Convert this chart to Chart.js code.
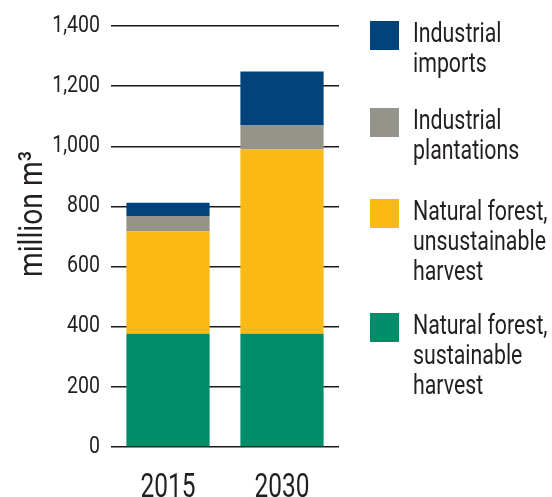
<!DOCTYPE html>
<html>
<head>
<meta charset="utf-8">
<script src="https://cdn.jsdelivr.net/npm/chart.js@4"></script>
<style>
  body { margin: 0; background: #fff; }
  #wrap { position: relative; width: 552px; height: 497px; overflow: hidden; }
  #legend { position: absolute; left: 0; top: 0; }
  .item { position: absolute; left: 370px; }
  .box { position: absolute; left: 0; top: 0; width: 29px; height: 29px; }
  .lbl { position: absolute; left: 43px; top: -3px; white-space: nowrap;
         font-family: Roboto, sans-serif; font-size: 27px; line-height: 30px; color: #231f20;
         transform: scaleX(0.79); transform-origin: 0 0; }
</style>
</head>
<body>
<div id="wrap">
  <canvas id="chart" width="552" height="497"></canvas>
  <div id="legend"></div>
</div>
<script>
const FONT = "Roboto, sans-serif";

const years = ["2015", "2030"];
const sustainable = [377, 377];
const unsustainable = [340, 612];
const plantations = [51, 80];
const imports = [44, 180];
const yTicks = [0, 200, 400, 600, 800, 1000, 1200, 1400];

const series = [
  { label: "Natural forest, sustainable harvest", lines: ["Natural forest,", "sustainable", "harvest"], data: sustainable, color: "#028d6a" },
  { label: "Natural forest, unsustainable harvest", lines: ["Natural forest,", "unsustainable", "harvest"], data: unsustainable, color: "#fbb915" },
  { label: "Industrial plantations", lines: ["Industrial", "plantations"], data: plantations, color: "#95948a" },
  { label: "Industrial imports", lines: ["Industrial", "imports"], data: imports, color: "#02437b" }
];

// legend, top item first
const legendTops = [21, 108, 199, 313];
const legend = document.getElementById("legend");
series.slice().reverse().forEach((s, i) => {
  const item = document.createElement("div");
  item.className = "item";
  item.style.top = legendTops[i] + "px";
  item.innerHTML = '<div class="box" style="background:' + s.color + '"></div>' +
    '<div class="lbl">' + s.lines.join("<br>") + '</div>';
  legend.appendChild(item);
});

// squeeze canvas text horizontally so Roboto reads like the condensed original
const SQUEEZE = { 23: 0.85, 34: 0.72 };
const condensed = {
  id: "condensed",
  beforeDraw(chart) {
    const c = chart.ctx;
    if (c._origFillText) return;
    c._origFillText = c.fillText.bind(c);
    c.fillText = function (t, x, y) {
      const m = /(\d+)px/.exec(c.font);
      const k = SQUEEZE[m && m[1]] || 1;
      c.save();
      c.translate(x, y);
      c.scale(k, 1);
      c._origFillText(t, 0, 0);
      c.restore();
    };
  },
  afterDraw(chart) {
    const c = chart.ctx;
    c.save();
    c.translate(42, 214);
    c.rotate(-Math.PI / 2);
    c.scale(0.83, 1);
    c.fillStyle = "#231f20";
    c.textAlign = "center";
    c.textBaseline = "alphabetic";
    c.font = "34px " + FONT;
    c._origFillText("million m\u00b3", 0, 0);
    c.restore();
  }
};

new Chart(document.getElementById("chart").getContext("2d"), {
  type: "bar",
  data: {
    labels: years,
    datasets: series.map(s => ({
      label: s.label,
      data: s.data,
      backgroundColor: s.color,
      borderWidth: 0,
      barPercentage: 0.73,
      categoryPercentage: 1
    }))
  },
  options: {
    responsive: false,
    animation: false,
    layout: { padding: { top: 26, right: 213, left: 0, bottom: 0 } },
    plugins: { legend: { display: false }, tooltip: { enabled: false } },
    scales: {
      x: {
        stacked: true,
        grid: { display: false },
        border: { display: false },
        ticks: { color: "#231f20", font: { family: FONT, size: 34 }, padding: 13 },
        afterFit: s => { s.height = 50; }
      },
      y: {
        stacked: true,
        min: 0,
        max: 1400,
        afterBuildTicks: s => { s.ticks = yTicks.map(v => ({ value: v })); },
        grid: { color: "#1a1a1a", lineWidth: 1.5, drawTicks: false },
        border: { display: false },
        ticks: {
          color: "#231f20",
          font: { family: FONT, size: 23 },
          padding: 11,
          callback: v => v.toLocaleString("en-US")
        },
        afterFit: s => { s.width = 111; }
      }
    }
  },
  plugins: [condensed]
});
</script>
</body>
</html>
